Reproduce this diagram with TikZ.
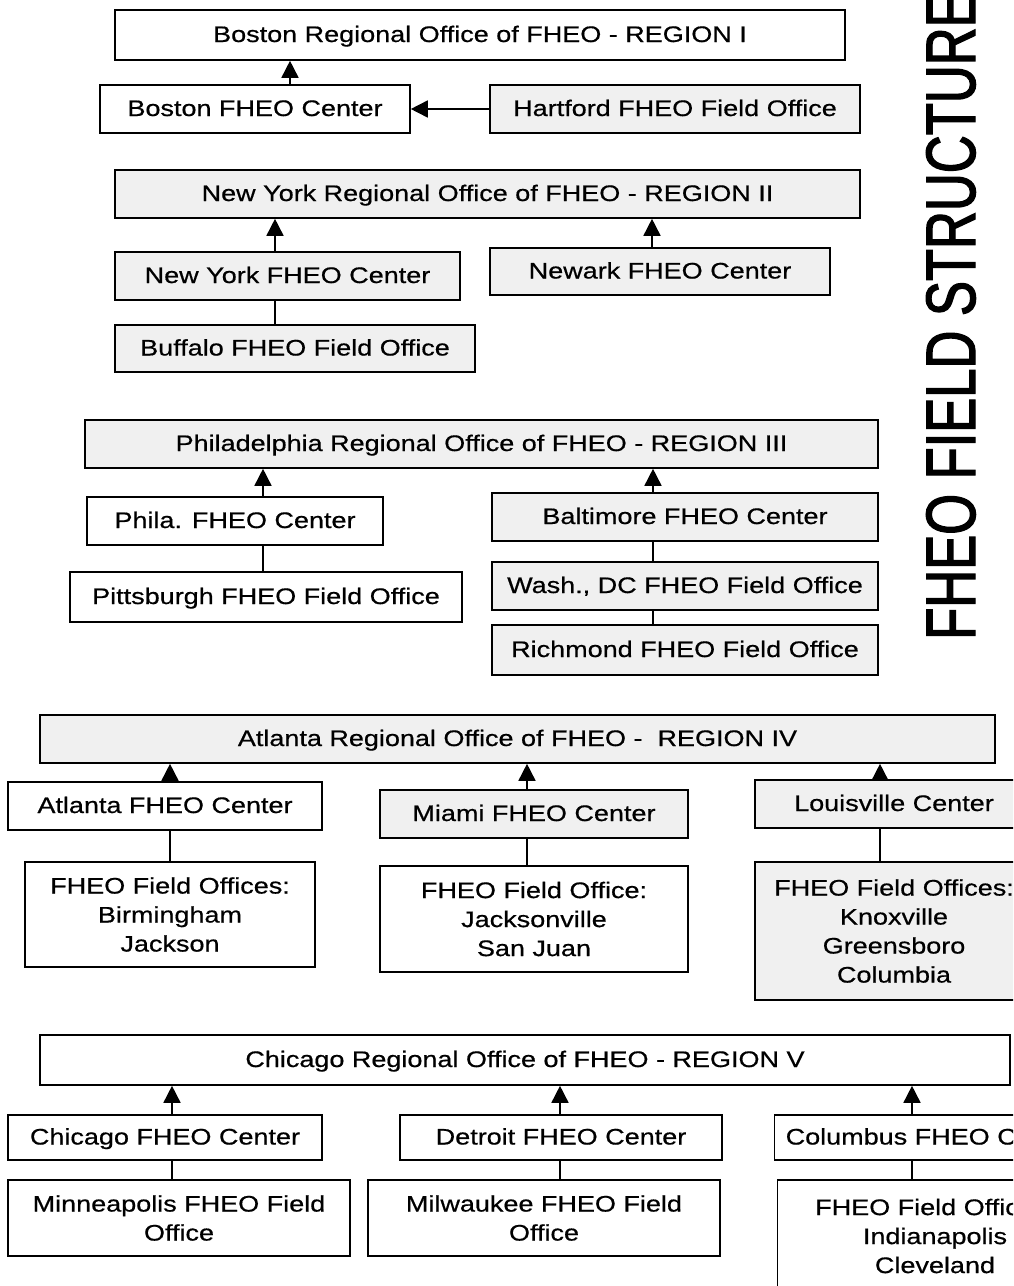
\documentclass[tikz,border=0pt]{standalone}
\usepackage{fontspec}
\setmainfont[FakeStretch=1.2, FakeBold=0.6]{Liberation Sans}
\newfontfamily\titlefont[FakeStretch=0.75, FakeBold=1.8]{Liberation Sans}
\usetikzlibrary{arrows.meta}
\tikzset{
  basebox/.style={draw=black, line width=1.6pt, fill=white, inner sep=2pt, align=center,
    font=\fontsize{22.5}{29}\selectfont},
  box/.style={basebox, text height=16pt, text depth=2pt},
  mbox/.style={basebox},
  speck/.style={fill=black!6},
  wh/.style 2 args={minimum width=#1pt, minimum height=#2pt},
  arr/.style={line width=1.6pt, -{Triangle[length=17pt,width=17pt]}},
  conn/.style={line width=1.6pt},
}
\begin{document}
\begin{tikzpicture}[x=1pt,y=-1pt]
\useasboundingbox (0,0) rectangle (1013,1286);
\clip (0,0) rectangle (1013,1286);
\fill[white] (0,0) rectangle (1013,1286);

% ---------- Region I ----------
\node[box, wh={730}{50}] (bro) at (480,35) {Boston Regional Office of FHEO - REGION I};
\node[box, wh={310}{48}] (bc) at (255,109) {Boston FHEO Center};
\node[box, speck, wh={370}{48}] (hf) at (675,109) {Hartford FHEO Field Office};
\draw[arr] (bc.north -| 290,0) -- (bro.south -| 290,0);
\draw[arr] (hf.west) -- (bc.east);

% ---------- Region II ----------
\node[box, speck, wh={745}{48}] (nyro) at (487.5,194) {New York Regional Office of FHEO - REGION II};
\node[box, speck, wh={345}{48}] (nyc) at (287.5,276) {New York FHEO Center};
\node[box, speck, wh={340}{47}] (nwk) at (660,271.5) {Newark FHEO Center};
\node[box, speck, wh={360}{47}] (buf) at (295,348.5) {Buffalo FHEO Field Office};
\draw[arr] (nyc.north -| 275,0) -- (nyro.south -| 275,0);
\draw[arr] (nwk.north -| 652,0) -- (nyro.south -| 652,0);
\draw[conn] (buf.north -| 275,0) -- (nyc.south -| 275,0);

% ---------- Region III ----------
\node[box, speck, wh={793}{48}] (phro) at (481.5,444) {Philadelphia Regional Office of FHEO - REGION III};
\node[box, wh={296}{48}] (phc) at (235,521) {Phila. FHEO Center};
\node[box, wh={392}{50}] (pit) at (266,597) {Pittsburgh FHEO Field Office};
\node[box, speck, wh={386}{48}] (bal) at (685,517) {Baltimore FHEO Center};
\node[box, speck, wh={386}{48}] (was) at (685,586) {Wash., DC FHEO Field Office};
\node[box, speck, wh={386}{50}] (ric) at (685,650) {Richmond FHEO Field Office};
\draw[arr] (phc.north -| 263,0) -- (phro.south -| 263,0);
\draw[arr] (bal.north -| 653,0) -- (phro.south -| 653,0);
\draw[conn] (pit.north -| 263,0) -- (phc.south -| 263,0);
\draw[conn] (was.north -| 653,0) -- (bal.south -| 653,0);
\draw[conn] (ric.north -| 653,0) -- (was.south -| 653,0);

% ---------- Region IV ----------
\node[box, speck, wh={955}{48}] (atro) at (517.5,739) {Atlanta Regional Office of FHEO -\ \ REGION IV};
\node[box, wh={314}{48}] (atc) at (165,806) {Atlanta FHEO Center};
\node[box, speck, wh={308}{48}] (mia) at (534,814) {Miami FHEO Center};
\node[box, speck, wh={278}{48}] (lou) at (894,804) {Louisville Center};
\node[mbox, wh={290}{105}] (atfo) at (170,914.5) {FHEO Field Offices:\\Birmingham\\Jackson};
\node[mbox, wh={308}{106}] (mifo) at (534,919) {FHEO Field Office:\\Jacksonville\\San Juan};
\node[mbox, speck, wh={278}{138}] (lofo) at (894,931) {FHEO Field Offices:\\Knoxville\\Greensboro\\Columbia};
\draw[arr] (atc.north -| 170,0) -- (atro.south -| 170,0);
\draw[arr] (mia.north -| 527,0) -- (atro.south -| 527,0);
\draw[arr] (lou.north -| 880,0) -- (atro.south -| 880,0);
\draw[conn] (atfo.north -| 170,0) -- (atc.south -| 170,0);
\draw[conn] (mifo.north -| 527,0) -- (mia.south -| 527,0);
\draw[conn] (lofo.north -| 880,0) -- (lou.south -| 880,0);

% ---------- Region V ----------
\node[box, wh={970}{50}] (chro) at (525,1060) {Chicago Regional Office of FHEO - REGION V};
\node[box, wh={314}{45}] (chc) at (165,1137.5) {Chicago FHEO Center};
\node[box, wh={322}{45}] (det) at (561,1137.5) {Detroit FHEO Center};
\node[box, wh={315}{45}] (col) at (932,1137.5) {Columbus FHEO Center};
\node[mbox, wh={342}{76}] (mnfo) at (179,1218) {Minneapolis FHEO Field\\Office};
\node[mbox, wh={352}{76}] (mwfo) at (544,1218) {Milwaukee FHEO Field\\Office};
\node[mbox, wh={315}{112}] (cofo) at (935,1236) {FHEO Field Offices:\\Indianapolis\\Cleveland};
\draw[arr] (chc.north -| 172,0) -- (chro.south -| 172,0);
\draw[arr] (det.north -| 560,0) -- (chro.south -| 560,0);
\draw[arr] (col.north -| 912,0) -- (chro.south -| 912,0);
\draw[conn] (mnfo.north -| 172,0) -- (chc.south -| 172,0);
\draw[conn] (mwfo.north -| 560,0) -- (det.south -| 560,0);
\draw[conn] (cofo.north -| 912,0) -- (col.south -| 912,0);

% ---------- Title ----------
\node[rotate=90, anchor=base west, inner sep=0pt,
  font=\titlefont\fontsize{70}{70}\selectfont] (title) at (975,640) {FHEO FIELD STRUCTURE};
\end{tikzpicture}
\end{document}
